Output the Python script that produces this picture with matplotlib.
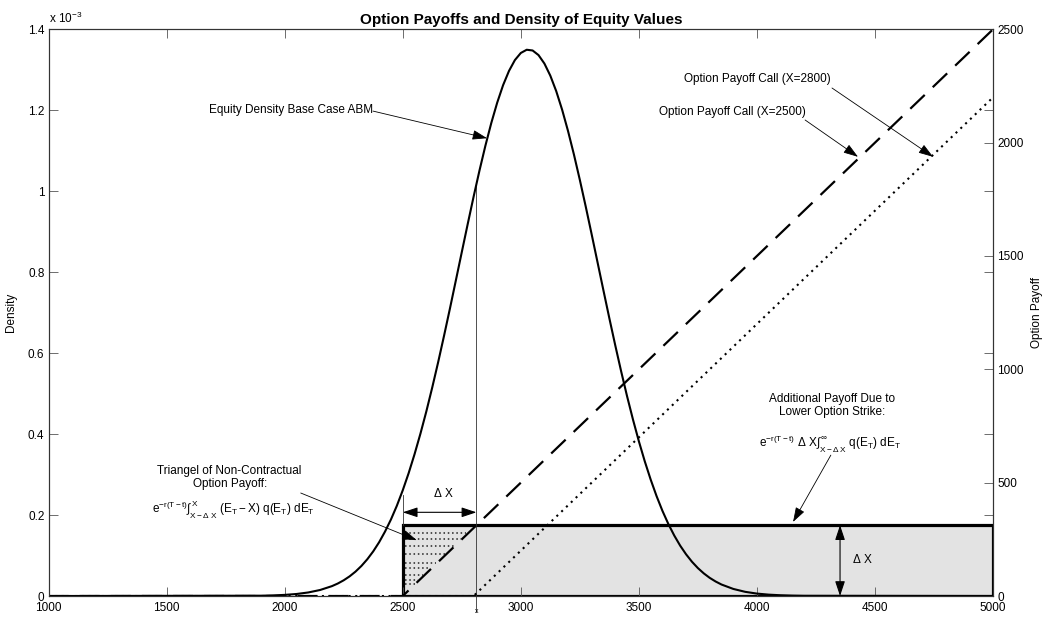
import matplotlib
matplotlib.use('Agg')
import matplotlib.pyplot as plt
from matplotlib.patches import Rectangle

plt.rcParams['font.family'] = ['Liberation Sans', 'DejaVu Sans']
plt.rcParams['mathtext.fontset'] = 'custom'
plt.rcParams['mathtext.rm'] = 'Liberation Sans'
plt.rcParams['mathtext.it'] = 'Liberation Sans'
plt.rcParams['mathtext.default'] = 'regular'

# equity values and density (in units of 1e-3)
equity = [1000, 1900, 1950, 2000, 2050, 2100, 2150, 2200, 2225, 2250, 2275,
          2300, 2325, 2350, 2375, 2400, 2425, 2450, 2475, 2500, 2525, 2550,
          2575, 2600, 2625, 2650, 2675, 2700, 2725, 2750, 2775, 2800, 2825,
          2850, 2875, 2900, 2925, 2950, 2975, 3000, 3025, 3050, 3075, 3100,
          3125, 3150, 3175, 3200, 3225, 3250, 3275, 3300, 3325, 3350, 3375,
          3400, 3425, 3450, 3475, 3500, 3525, 3550, 3575, 3600, 3625, 3650,
          3675, 3700, 3725, 3750, 3775, 3800, 3825, 3850, 3900, 3950, 4000,
          4050, 4100, 4150, 4200, 5000]
density = [0.0, 0.0008, 0.0015, 0.0028, 0.0050, 0.0088, 0.0149, 0.0244, 0.0309,
           0.0389, 0.0486, 0.0603, 0.0743, 0.0909, 0.1103, 0.1329, 0.1592,
           0.1890, 0.2229, 0.2611, 0.3035, 0.3503, 0.4012, 0.4562, 0.5153,
           0.5777, 0.6431, 0.7105, 0.7798, 0.8493, 0.9185, 0.9862, 1.0511,
           1.1123, 1.1685, 1.2187, 1.2620, 1.2972, 1.3240, 1.3415, 1.3495,
           1.3477, 1.3363, 1.3154, 1.2855, 1.2473, 1.2014, 1.1488, 1.0907,
           1.0280, 0.9621, 0.8938, 0.8244, 0.7549, 0.6862, 0.6194, 0.5550,
           0.4937, 0.4361, 0.3823, 0.3328, 0.2877, 0.2468, 0.2102, 0.1778,
           0.1493, 0.1244, 0.1030, 0.0846, 0.0690, 0.0559, 0.0449, 0.0359,
           0.0284, 0.0175, 0.0104, 0.0060, 0.0034, 0.0019, 0.0010, 0.0005, 0.0]

# option payoffs (right axis)
call_2500_x = [1000, 2500, 5000]
call_2500_y = [0, 0, 2500]
call_2800_x = [1000, 2800, 5000]
call_2800_y = [0, 0, 2200]

# shaded payoff box and hatched triangle (density units 1e-3)
box_left, box_right, box_top = 2500, 5000, 0.175
strike_line_x = 2812
hatch_y = [0.156, 0.140, 0.124, 0.105, 0.081, 0.068, 0.052, 0.040, 0.030]
hatch_end = [2770, 2745, 2715, 2680, 2640, 2615, 2585, 2565, 2550]

xticks = [1000, 1500, 2000, 2500, 3000, 3500, 4000, 4500, 5000]
dens_ticks = [0, 0.2, 0.4, 0.6, 0.8, 1.0, 1.2, 1.4]
dens_labels = ['0', '0.2', '0.4', '0.6', '0.8', '1', '1.2', '1.4']
pay_ticks = [0, 500, 1000, 1500, 2000, 2500]

E3 = 1e-3
fs = 8.5

fig = plt.figure(figsize=(10.44, 6.17), dpi=100)
ax = fig.add_axes([0.0465, 0.034, 0.9047, 0.9185])
ax2 = ax.twinx()

ax.add_patch(Rectangle((box_left, 0), box_right - box_left, box_top * E3,
                       facecolor='#e3e3e3', edgecolor='black', lw=2.3, zorder=1))
for yy, xe in zip(hatch_y, hatch_end):
    ax.plot([box_left + 8, xe], [yy * E3, yy * E3], color='#222222', lw=1.1,
            linestyle=(0, (1, 1.8)), zorder=2)

ax.plot(equity, [d * E3 for d in density], color='black', lw=1.5, zorder=3)

ax2.plot(call_2500_x, call_2500_y, color='black', lw=1.6, linestyle=(0, (9, 5)))
ax2.plot(call_2800_x, call_2800_y, color='black', lw=1.5, linestyle=(0, (1, 2.2)))

# thin guide lines
ax.plot([strike_line_x, strike_line_x], [-0.04 * E3, 1.015 * E3], color='#333333',
        lw=0.6, clip_on=False, zorder=2)
ax.plot([box_left, box_left], [box_top * E3, 0.25 * E3], color='#333333', lw=0.6, zorder=2)
ax.text(strike_line_x, -0.038 * E3, 'x', fontsize=5, ha='center', va='center')

arrow = dict(arrowstyle='-|>,head_length=0.9,head_width=0.3', color='black', lw=0.6,
             shrinkA=0, shrinkB=0)
darrow = dict(arrowstyle='<|-|>,head_length=0.9,head_width=0.3', color='black', lw=0.8,
              shrinkA=0, shrinkB=0)

ax.text(2374, 1.20 * E3, 'Equity Density Base Case ABM', fontsize=fs, ha='right', va='center')
ax.annotate('', xy=(2857, 1.131 * E3), xytext=(2374, 1.198 * E3), arrowprops=arrow)

ax.text(4003, 1.277 * E3, 'Option Payoff Call (X=2800)', fontsize=fs, ha='center', va='center')
ax.annotate('', xy=(4746, 1.085 * E3), xytext=(4318, 1.255 * E3), arrowprops=arrow)
ax.text(3895, 1.196 * E3, 'Option Payoff Call (X=2500)', fontsize=fs, ha='center', va='center')
ax.annotate('', xy=(4428, 1.085 * E3), xytext=(4204, 1.176 * E3), arrowprops=arrow)

ax.text(1767, 0.293 * E3, 'Triangel of Non-Contractual\nOption Payoff:', fontsize=fs,
        ha='center', va='center', linespacing=1.1)
ax.text(1781, 0.2125 * E3, r'$e^{-r(T-t)}\int_{X-\Delta\ X}^{X}\ (E_T-X)\ q(E_T)\ dE_T$',
        fontsize=fs, ha='center', va='center')
ax.annotate('', xy=(2559, 0.138 * E3), xytext=(2068, 0.2545 * E3), arrowprops=arrow)

ax.text(2671, 0.2545 * E3, r'$\Delta$ X', fontsize=fs, ha='center', va='center')
ax.annotate('', xy=(box_left, 0.2068 * E3), xytext=(strike_line_x, 0.2068 * E3),
            arrowprops=darrow)

ax.text(4320, 0.4706 * E3, 'Additional Payoff Due to\nLower Option Strike:', fontsize=fs,
        ha='center', va='center', linespacing=1.1)
ax.text(4311, 0.378 * E3, r'$e^{-r(T-t)}\ \Delta\ X\int_{X-\Delta\ X}^{\infty}\ q(E_T)\ dE_T$',
        fontsize=fs, ha='center', va='center')
ax.annotate('', xy=(4153, 0.183 * E3), xytext=(4313, 0.348 * E3), arrowprops=arrow)

ax.annotate('', xy=(4352, 0), xytext=(4352, box_top * E3), arrowprops=darrow)
ax.text(4446, 0.0914 * E3, r'$\Delta$ X', fontsize=fs, ha='center', va='center')

# axes
ax.set_xlim(1000, 5000)
ax.set_ylim(0, 1.4 * E3)
ax2.set_ylim(0, 2500)
ax.set_xticks(xticks)
ax.set_xticklabels([str(t) for t in xticks])
ax.set_yticks([t * E3 for t in dens_ticks])
ax.set_yticklabels(dens_labels)
ax2.set_yticks(pay_ticks)
ax2.set_yticklabels([str(t) for t in pay_ticks])

ax.tick_params(direction='in', length=6.5, width=0.6, color='#555555', labelsize=fs,
               top=True, right=True, pad=3)
ax.tick_params(axis='x', pad=4)
ax2.tick_params(direction='in', length=6.5, width=0.6, color='#555555', labelsize=fs, pad=3)
for a in (ax, ax2):
    for s in a.spines.values():
        s.set_color('#333333')
        s.set_linewidth(0.8)

ax.set_ylabel('Density', fontsize=fs, labelpad=8)
ax2.set_ylabel('Option Payoff', fontsize=fs, labelpad=5)
ax.set_title('Option Payoffs and Density of Equity Values', fontsize=11, fontweight='bold', pad=4)
ax.text(0.0, 1.005, r'x 10$^{-3}$', transform=ax.transAxes, fontsize=fs, ha='left', va='bottom')

fig.savefig('out.png', dpi=100)
